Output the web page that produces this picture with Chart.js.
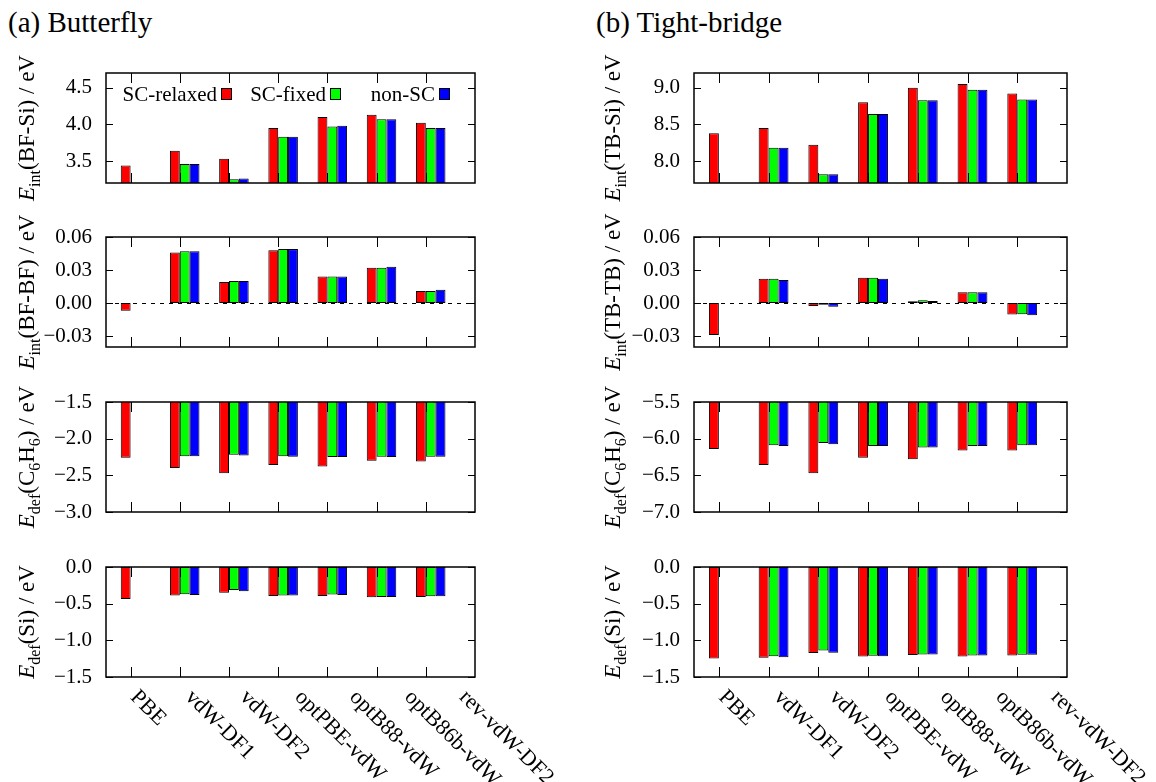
<!DOCTYPE html>
<html><head><meta charset="utf-8">
<script src="https://cdn.jsdelivr.net/npm/chart.js@4/dist/chart.umd.min.js"></script>
<style>
html,body{margin:0;padding:0;background:#fff;}
#wrap{position:relative;width:1156px;height:782px;overflow:hidden;background:#fff;}
#wrap canvas{position:absolute;left:0;top:0;}
.hdr{position:absolute;font-family:'Liberation Serif','Times New Roman',serif;font-size:29px;color:#000;white-space:nowrap;line-height:1;}
</style></head><body>
<div id="wrap">
<div class="hdr" style="left:8px;top:8px">(a) Butterfly</div>
<div class="hdr" style="left:596px;top:8px">(b) Tight-bridge</div>
</div>
<script>
// ---------------- data ----------------
const categories = ['PBE','vdW-DF1','vdW-DF2','optPBE-vdW','optB88-vdW','optB86b-vdW','rev-vdW-DF2'];
const seriesNames = ['SC-relaxed','SC-fixed','non-SC'];
const seriesColors = ['#ff0000','#00ff00','#0000ff'];

// (a) Butterfly
const bfSiRelaxed = [3.44, 3.64, 3.53, 3.95, 4.10, 4.13, 4.02];
const bfSiFixed   = [null, 3.46, 3.25, 3.83, 3.97, 4.07, 3.95];
const bfSiNonSC   = [null, 3.46, 3.26, 3.83, 3.98, 4.07, 3.95];

const bfBfRelaxed = [-0.007, 0.046, 0.019, 0.048, 0.024, 0.032, 0.011];
const bfBfFixed   = [null,   0.047, 0.020, 0.049, 0.024, 0.032, 0.011];
const bfBfNonSC   = [null,   0.047, 0.020, 0.049, 0.024, 0.033, 0.012];

const bfC6Relaxed = [-2.26, -2.40, -2.47, -2.36, -2.38, -2.30, -2.31];
const bfC6Fixed   = [null,  -2.24, -2.22, -2.24, -2.25, -2.245, -2.245];
const bfC6NonSC   = [null,  -2.24, -2.23, -2.245, -2.25, -2.25, -2.245];

const bfSiDefRelaxed = [-0.436, -0.39, -0.35, -0.394, -0.394, -0.413, -0.408];
const bfSiDefFixed   = [null,   -0.372, -0.312, -0.39, -0.376, -0.408, -0.40];
const bfSiDefNonSC   = [null,   -0.381, -0.33, -0.39, -0.381, -0.408, -0.40];

// (b) Tight-bridge
const tbSiRelaxed = [8.38, 8.45, 8.22, 8.80, 9.00, 9.05, 8.92];
const tbSiFixed   = [null, 8.18, 7.82, 8.64, 8.83, 8.97, 8.84];
const tbSiNonSC   = [null, 8.18, 7.82, 8.64, 8.83, 8.97, 8.84];

const tbTbRelaxed = [-0.029, 0.022, -0.0027, 0.023, 0.0015, 0.0097, -0.0105];
const tbTbFixed   = [null,   0.022, -0.0015, 0.023, 0.0025, 0.0097, -0.0103];
const tbTbNonSC   = [null,   0.021, -0.0035, 0.022, 0.0018, 0.0097, -0.0112];

const tbC6Relaxed = [-6.14, -6.36, -6.47, -6.26, -6.28, -6.16, -6.16];
const tbC6Fixed   = [null,  -6.09, -6.06, -6.10, -6.12, -6.10, -6.09];
const tbC6NonSC   = [null,  -6.10, -6.075, -6.10, -6.12, -6.10, -6.09];

const tbSiDefRelaxed = [-1.248, -1.239, -1.174, -1.22, -1.20, -1.22, -1.206];
const tbSiDefFixed   = [null,   -1.216, -1.138, -1.21, -1.193, -1.206, -1.197];
const tbSiDefNonSC   = [null,   -1.23, -1.17, -1.216, -1.193, -1.206, -1.197];

// tick values
const ticksBfSi = [3.5, 4.0, 4.5];
const ticksTbSi = [8.0, 8.5, 9.0];
const ticksPair = [-0.03, 0.00, 0.03, 0.06];
const ticksBfC6 = [-3.0, -2.5, -2.0, -1.5];
const ticksTbC6 = [-7.0, -6.5, -6.0, -5.5];
const ticksSiDef = [-1.5, -1.0, -0.5, 0.0];

// ---------------- layout ----------------
const W = 1156, H = 782;
const FONT = "'Liberation Serif','Times New Roman',serif";
const columns = [{left:106, right:475, titleX:34}, {left:694, right:1067, titleX:620}];
const rowTops = [73, 237, 402, 567];
const rowH = 110;
const AXW = 90;
const LABEL_SPREAD = 1.114; // rotated category labels are spaced a bit wider than the ticks

const panels = [
  {col:0,row:0,series:[bfSiRelaxed,bfSiFixed,bfSiNonSC],min:3.2,max:4.7,ticks:ticksBfSi,dec:1,
   title:[['E','i'],['int','s'],['(BF-Si) / eV','n']],legend:true},
  {col:0,row:1,series:[bfBfRelaxed,bfBfFixed,bfBfNonSC],min:-0.04,max:0.06,ticks:ticksPair,dec:2,
   title:[['E','i'],['int','s'],['(BF-BF) / eV','n']],zero:true},
  {col:0,row:2,series:[bfC6Relaxed,bfC6Fixed,bfC6NonSC],min:-3.0,max:-1.5,ticks:ticksBfC6,dec:1,
   title:[['E','i'],['def','s'],['(C','n'],['6','s'],['H','n'],['6','s'],[') / eV','n']]},
  {col:0,row:3,series:[bfSiDefRelaxed,bfSiDefFixed,bfSiDefNonSC],min:-1.5,max:0.0,ticks:ticksSiDef,dec:1,
   title:[['E','i'],['def','s'],['(Si) / eV','n']],xlabels:true},
  {col:1,row:0,series:[tbSiRelaxed,tbSiFixed,tbSiNonSC],min:7.7,max:9.2,ticks:ticksTbSi,dec:1,
   title:[['E','i'],['int','s'],['(TB-Si) / eV','n']]},
  {col:1,row:1,series:[tbTbRelaxed,tbTbFixed,tbTbNonSC],min:-0.04,max:0.06,ticks:ticksPair,dec:2,
   title:[['E','i'],['int','s'],['(TB-TB) / eV','n']],zero:true},
  {col:1,row:2,series:[tbC6Relaxed,tbC6Fixed,tbC6NonSC],min:-7.0,max:-5.5,ticks:ticksTbC6,dec:1,
   title:[['E','i'],['def','s'],['(C','n'],['6','s'],['H','n'],['6','s'],[') / eV','n']]},
  {col:1,row:3,series:[tbSiDefRelaxed,tbSiDefFixed,tbSiDefNonSC],min:-1.5,max:0.0,ticks:ticksSiDef,dec:1,
   title:[['E','i'],['def','s'],['(Si) / eV','n']],xlabels:true},
];

function fmt(v, d){
  const s = Math.abs(v).toFixed(d);
  return (v < -1e-9 ? '\u2212' : '') + s;
}
function segFont(s){
  if (s === 'i') return 'italic 23px ' + FONT;
  if (s === 's') return '16px ' + FONT;
  return '23px ' + FONT;
}

const panelPlugin = {
  id: 'panelDeco',
  beforeDatasetsDraw(chart, args, o){
    if (!o.zero) return;
    const ctx = chart.ctx, a = chart.chartArea;
    const y = Math.round(chart.scales.y.getPixelForValue(0)) + 0.5;
    ctx.save();
    ctx.strokeStyle = '#000'; ctx.lineWidth = 1; ctx.setLineDash([4,5]);
    ctx.beginPath(); ctx.moveTo(a.left, y); ctx.lineTo(a.right, y); ctx.stroke();
    ctx.restore();
  },
  afterDatasetsDraw(chart, args, o){
    const ctx = chart.ctx, a = chart.chartArea, xs = chart.scales.x, ys = chart.scales.y;
    ctx.save();
    ctx.strokeStyle = '#000';
    ctx.lineWidth = 1;
    const line = (x1,y1,x2,y2) => { ctx.beginPath(); ctx.moveTo(x1,y1); ctx.lineTo(x2,y2); ctx.stroke(); };
    xs.ticks.forEach(t => {
      const px = Math.round(xs.getPixelForValue(t.value)) + 0.5;
      line(px, a.bottom, px, a.bottom - 10);
      line(px, a.top, px, a.top + 10);
    });
    ys.ticks.forEach(t => {
      const py = Math.round(ys.getPixelForValue(t.value)) + 0.5;
      line(a.left, py, a.left + 7, py);
      line(a.right, py, a.right - 7, py);
    });
    ctx.lineWidth = 1.5;
    ctx.strokeRect(a.left, a.top, a.right - a.left, a.bottom - a.top);

    // y title (rich text, rotated)
    ctx.fillStyle = '#000';
    let total = 0;
    o.title.forEach(([t,s]) => { ctx.font = segFont(s); total += ctx.measureText(t).width; });
    ctx.save();
    ctx.translate(o.titleX, (a.top + a.bottom) / 2);
    ctx.rotate(-Math.PI / 2);
    ctx.textAlign = 'left'; ctx.textBaseline = 'alphabetic';
    let xx = -total / 2;
    o.title.forEach(([t,s]) => {
      ctx.font = segFont(s);
      ctx.fillText(t, xx, s === 's' ? 6 : 0);
      xx += ctx.measureText(t).width;
    });
    ctx.restore();

    // rotated category labels
    if (o.xlabels){
      ctx.font = '22px ' + FONT;
      ctx.textAlign = 'left'; ctx.textBaseline = 'alphabetic';
      const p0 = xs.getPixelForValue(0);
      xs.ticks.forEach(t => {
        const px = p0 + (xs.getPixelForValue(t.value) - p0) * LABEL_SPREAD;
        ctx.save();
        ctx.translate(px - 1, a.bottom + 21);
        ctx.rotate(Math.PI / 4);
        ctx.fillText(categories[t.value], 0, 0);
        ctx.restore();
      });
    }

    // legend (text then swatch)
    if (o.legend){
      const ds = chart.data.datasets.filter(d => d.label);
      ctx.font = '21px ' + FONT;
      ctx.textAlign = 'right'; ctx.textBaseline = 'middle';
      ds.forEach((d, i) => {
        const sx = a.left + 115 + i * 109, sy = a.top + 15;
        ctx.fillStyle = d.backgroundColor;
        ctx.fillRect(sx, sy, 11, 12);
        ctx.lineWidth = 1; ctx.strokeStyle = '#000';
        ctx.strokeRect(sx + 0.5, sy + 0.5, 10, 11);
        ctx.fillStyle = '#000';
        ctx.fillText(d.label, sx - 4, sy + 7);
      });
    }
    ctx.restore();
  }
};

const wrap = document.getElementById('wrap');
panels.forEach(p => {
  const c = document.createElement('canvas');
  c.width = W; c.height = H;
  c.style.width = W + 'px'; c.style.height = H + 'px';
  wrap.appendChild(c);
  const col = columns[p.col];
  const top = rowTops[p.row];
  const datasets = [{label:'', data: categories.map((_, i) => ({x:i, y:null})),
                     backgroundColor:'rgba(0,0,0,0)', borderWidth:0}];
  p.series.forEach((arr, k) => {
    datasets.push({
      label: seriesNames[k],
      data: arr.map((v, i) => ({x:i, y:v})),
      backgroundColor: seriesColors[k],
      borderColor: '#000',
      borderWidth: 1,
      borderSkipped: false
    });
  });
  new Chart(c, {
    type: 'bar',
    data: {datasets},
    plugins: [panelPlugin],
    options: {
      responsive: false,
      animation: false,
      devicePixelRatio: 1,
      categoryPercentage: 0.8,
      barPercentage: 1.0,
      layout: {padding: {left: col.left - AXW, right: W - col.right, top: top, bottom: H - top - rowH}},
      plugins: {
        legend: {display: false},
        tooltip: {enabled: false},
        panelDeco: {title: p.title, titleX: col.titleX, zero: !!p.zero, xlabels: !!p.xlabels, legend: !!p.legend}
      },
      scales: {
        x: {
          type: 'linear', min: -0.5, max: 7, display: false, offset: false,
          afterBuildTicks: s => { s.ticks = categories.map((_, i) => ({value: i})); }
        },
        y: {
          type: 'linear', min: p.min, max: p.max,
          afterBuildTicks: s => { s.ticks = p.ticks.map(v => ({value: v})); },
          afterFit: s => { s.width = AXW; },
          grid: {display: false, drawTicks: false},
          border: {display: false},
          ticks: {
            color: '#000', padding: 14,
            font: {family: FONT, size: 21},
            callback: v => fmt(v, p.dec)
          }
        }
      }
    }
  });
});
</script>
</body></html>
